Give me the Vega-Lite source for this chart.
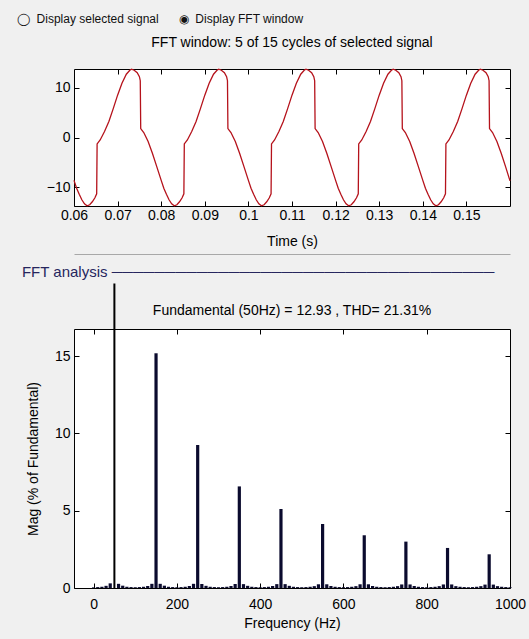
{
  "$schema": "https://vega.github.io/schema/vega-lite/v6.json",
  "background": "#f0f0f0",
  "padding": {"left": 16, "top": 13, "right": 21, "bottom": 12},
  "title": {"text": "◯\u00a0\u00a0Display selected signal\u00a0\u00a0\u00a0\u00a0\u00a0\u00a0◉\u00a0\u00a0Display FFT window", "anchor": "start", "fontSize": 12, "color": "#111", "dx": -5, "offset": 9},
  "config": {
    "font": "Liberation Sans",
    "view": {"stroke": "#000", "strokeWidth": 1, "fill": "#ffffff"},
    "scale": {"continuousPadding": 0},
    "axis": {"grid": false, "domain": false, "tickColor": "#000", "tickSize": -5, "labelFontSize": 14, "labelColor": "#000", "titleFontSize": 14, "titleFontWeight": "normal", "titleColor": "#000", "labelFlush": false, "labelOverlap": false, "labelPadding": 9, "titlePadding": 4},
    "title": {"fontWeight": "normal", "fontSize": 14, "color": "#000"}
  },
  "datasets": {
    "wave": [
      {"t":0.06,"v":-8.6},{"t":0.0606,"v":-10.2},{"t":0.0612,"v":-11.4},{"t":0.0618,"v":-12.5},{"t":0.0624,"v":-13.3},{"t":0.063,"v":-13.7},{"t":0.0636,"v":-13.5},{"t":0.0642,"v":-12.9},{"t":0.0648,"v":-12.1},{"t":0.0652,"v":-11.3},{"t":0.0653,"v":-1.3},{"t":0.066,"v":-0.5},{"t":0.067,"v":1.2},{"t":0.068,"v":3.2},{"t":0.069,"v":5.8},{"t":0.07,"v":8.5},{"t":0.071,"v":10.9},{"t":0.072,"v":12.7},{"t":0.0728,"v":13.5},{"t":0.0732,"v":13.7},{"t":0.0738,"v":13.5},{"t":0.0745,"v":13.0},{"t":0.075,"v":12.2},{"t":0.0752,"v":11.4},{"t":0.0753,"v":1.8},{"t":0.076,"v":1.0},{"t":0.077,"v":-0.8},{"t":0.078,"v":-3.2},{"t":0.079,"v":-5.9},
      {"t":0.08,"v":-8.6},{"t":0.0806,"v":-10.2},{"t":0.0812,"v":-11.4},{"t":0.0818,"v":-12.5},{"t":0.0824,"v":-13.3},{"t":0.083,"v":-13.7},{"t":0.0836,"v":-13.5},{"t":0.0842,"v":-12.9},{"t":0.0848,"v":-12.1},{"t":0.0852,"v":-11.3},{"t":0.0853,"v":-1.3},{"t":0.086,"v":-0.5},{"t":0.087,"v":1.2},{"t":0.088,"v":3.2},{"t":0.089,"v":5.8},{"t":0.09,"v":8.5},{"t":0.091,"v":10.9},{"t":0.092,"v":12.7},{"t":0.0928,"v":13.5},{"t":0.0932,"v":13.7},{"t":0.0938,"v":13.5},{"t":0.0945,"v":13.0},{"t":0.095,"v":12.2},{"t":0.0952,"v":11.4},{"t":0.0953,"v":1.8},{"t":0.096,"v":1.0},{"t":0.097,"v":-0.8},{"t":0.098,"v":-3.2},{"t":0.099,"v":-5.9},
      {"t":0.1,"v":-8.6},{"t":0.1006,"v":-10.2},{"t":0.1012,"v":-11.4},{"t":0.1018,"v":-12.5},{"t":0.1024,"v":-13.3},{"t":0.103,"v":-13.7},{"t":0.1036,"v":-13.5},{"t":0.1042,"v":-12.9},{"t":0.1048,"v":-12.1},{"t":0.1052,"v":-11.3},{"t":0.1053,"v":-1.3},{"t":0.106,"v":-0.5},{"t":0.107,"v":1.2},{"t":0.108,"v":3.2},{"t":0.109,"v":5.8},{"t":0.11,"v":8.5},{"t":0.111,"v":10.9},{"t":0.112,"v":12.7},{"t":0.1128,"v":13.5},{"t":0.1132,"v":13.7},{"t":0.1138,"v":13.5},{"t":0.1145,"v":13.0},{"t":0.115,"v":12.2},{"t":0.1152,"v":11.4},{"t":0.1153,"v":1.8},{"t":0.116,"v":1.0},{"t":0.117,"v":-0.8},{"t":0.118,"v":-3.2},{"t":0.119,"v":-5.9},
      {"t":0.12,"v":-8.6},{"t":0.1206,"v":-10.2},{"t":0.1212,"v":-11.4},{"t":0.1218,"v":-12.5},{"t":0.1224,"v":-13.3},{"t":0.123,"v":-13.7},{"t":0.1236,"v":-13.5},{"t":0.1242,"v":-12.9},{"t":0.1248,"v":-12.1},{"t":0.1252,"v":-11.3},{"t":0.1253,"v":-1.3},{"t":0.126,"v":-0.5},{"t":0.127,"v":1.2},{"t":0.128,"v":3.2},{"t":0.129,"v":5.8},{"t":0.13,"v":8.5},{"t":0.131,"v":10.9},{"t":0.132,"v":12.7},{"t":0.1328,"v":13.5},{"t":0.1332,"v":13.7},{"t":0.1338,"v":13.5},{"t":0.1345,"v":13.0},{"t":0.135,"v":12.2},{"t":0.1352,"v":11.4},{"t":0.1353,"v":1.8},{"t":0.136,"v":1.0},{"t":0.137,"v":-0.8},{"t":0.138,"v":-3.2},{"t":0.139,"v":-5.9},
      {"t":0.14,"v":-8.6},{"t":0.1406,"v":-10.2},{"t":0.1412,"v":-11.4},{"t":0.1418,"v":-12.5},{"t":0.1424,"v":-13.3},{"t":0.143,"v":-13.7},{"t":0.1436,"v":-13.5},{"t":0.1442,"v":-12.9},{"t":0.1448,"v":-12.1},{"t":0.1452,"v":-11.3},{"t":0.1453,"v":-1.3},{"t":0.146,"v":-0.5},{"t":0.147,"v":1.2},{"t":0.148,"v":3.2},{"t":0.149,"v":5.8},{"t":0.15,"v":8.5},{"t":0.151,"v":10.9},{"t":0.152,"v":12.7},{"t":0.1528,"v":13.5},{"t":0.1532,"v":13.7},{"t":0.1538,"v":13.5},{"t":0.1545,"v":13.0},{"t":0.155,"v":12.2},{"t":0.1552,"v":11.4},{"t":0.1553,"v":1.8},{"t":0.156,"v":1.0},{"t":0.157,"v":-0.8},{"t":0.158,"v":-3.2},{"t":0.159,"v":-5.9},{"t":0.16,"v":-8.7}
    ],
    "fft": [
      {"f":0,"m":0.04},{"f":10,"m":0.06},{"f":20,"m":0.08},{"f":30,"m":0.14},{"f":40,"m":0.3},{"f":50,"m":19.7},{"f":60,"m":0.27},{"f":70,"m":0.15},{"f":80,"m":0.08},{"f":90,"m":0.06},
      {"f":100,"m":0.05},{"f":110,"m":0.06},{"f":120,"m":0.08},{"f":130,"m":0.13},{"f":140,"m":0.27},{"f":150,"m":15.18},{"f":160,"m":0.27},{"f":170,"m":0.15},{"f":180,"m":0.08},{"f":190,"m":0.06},
      {"f":200,"m":0.05},{"f":210,"m":0.06},{"f":220,"m":0.08},{"f":230,"m":0.13},{"f":240,"m":0.27},{"f":250,"m":9.25},{"f":260,"m":0.26},{"f":270,"m":0.14},{"f":280,"m":0.08},{"f":290,"m":0.06},
      {"f":300,"m":0.05},{"f":310,"m":0.06},{"f":320,"m":0.08},{"f":330,"m":0.13},{"f":340,"m":0.26},{"f":350,"m":6.57},{"f":360,"m":0.25},{"f":370,"m":0.14},{"f":380,"m":0.08},{"f":390,"m":0.06},
      {"f":400,"m":0.05},{"f":410,"m":0.06},{"f":420,"m":0.08},{"f":430,"m":0.13},{"f":440,"m":0.25},{"f":450,"m":5.11},{"f":460,"m":0.25},{"f":470,"m":0.14},{"f":480,"m":0.08},{"f":490,"m":0.06},
      {"f":500,"m":0.05},{"f":510,"m":0.06},{"f":520,"m":0.08},{"f":530,"m":0.12},{"f":540,"m":0.24},{"f":550,"m":4.14},{"f":560,"m":0.24},{"f":570,"m":0.13},{"f":580,"m":0.08},{"f":590,"m":0.06},
      {"f":600,"m":0.05},{"f":610,"m":0.06},{"f":620,"m":0.08},{"f":630,"m":0.12},{"f":640,"m":0.24},{"f":650,"m":3.41},{"f":660,"m":0.24},{"f":670,"m":0.13},{"f":680,"m":0.08},{"f":690,"m":0.06},
      {"f":700,"m":0.05},{"f":710,"m":0.06},{"f":720,"m":0.08},{"f":730,"m":0.12},{"f":740,"m":0.23},{"f":750,"m":3.0},{"f":760,"m":0.23},{"f":770,"m":0.13},{"f":780,"m":0.08},{"f":790,"m":0.06},
      {"f":800,"m":0.05},{"f":810,"m":0.06},{"f":820,"m":0.08},{"f":830,"m":0.12},{"f":840,"m":0.23},{"f":850,"m":2.59},{"f":860,"m":0.23},{"f":870,"m":0.12},{"f":880,"m":0.08},{"f":890,"m":0.06},
      {"f":900,"m":0.05},{"f":910,"m":0.06},{"f":920,"m":0.08},{"f":930,"m":0.12},{"f":940,"m":0.22},{"f":950,"m":2.18},{"f":960,"m":0.22},{"f":970,"m":0.12},{"f":980,"m":0.08},{"f":990,"m":0.06},
      {"f":1000,"m":0.05}
    ]
  },
  "spacing": 10,
  "vconcat": [
    {
      "width": 436,
      "height": 137,
      "title": {"text": "FFT window: 5 of 15 cycles of selected signal", "offset": 17},
      "data": {"name": "wave"},
      "layer": [
        {
          "mark": {"type": "line", "color": "#b5121b", "strokeWidth": 1.3},
          "encoding": {
            "x": {"field": "t", "type": "quantitative", "scale": {"domain": [0.06, 0.16], "nice": false, "zero": false},
                  "axis": {"values": [0.06,0.07,0.08,0.09,0.1,0.11,0.12,0.13,0.14,0.15], "format": ".2~f", "title": "Time (s)", "labelPadding": 7, "titlePadding": 12}},
            "y": {"field": "v", "type": "quantitative", "scale": {"domain": [-13.75, 13.75], "nice": false, "zero": false},
                  "axis": {"values": [-10, 0, 10], "title": null}}
          }
        },
        {
          "mark": {"type": "line", "opacity": 0},
          "encoding": {
            "x": {"field": "t", "type": "quantitative", "axis": {"orient": "top", "values": [0.07,0.08,0.09,0.1,0.11,0.12,0.13,0.14,0.15], "labels": false, "title": null}},
            "y": {"field": "v", "type": "quantitative", "axis": {"orient": "right", "values": [-10, 0, 10], "labels": false, "title": null}}
          }
        },
        {
          "mark": {"type": "line", "opacity": 0},
          "encoding": {
            "x": {"field": "t", "type": "quantitative", "axis": {"orient": "bottom", "offset": 48, "ticks": false, "labels": false, "title": null, "domain": true, "domainColor": "#a8a8a8", "domainWidth": 1}}
          }
        }
      ],
      "resolve": {"axis": {"x": "independent", "y": "independent"}}
    },
    {
      "title": {"text": "FFT analysis\u00a0────────────────────────────────────", "anchor": "start", "color": "#26265e", "fontSize": 15, "dx": -4, "offset": 0},
      "vconcat": [
        {
          "width": 436,
          "height": 259,
          "title": {"text": "Fundamental (50Hz) = 12.93 , THD= 21.31%", "offset": -37},
          "data": {"name": "fft"},
          "layer": [
            {
              "mark": {"type": "bar"},
              "encoding": {
                "x": {"field": "f", "type": "quantitative", "scale": {"domain": [-47, 1000], "nice": false, "zero": false, "padding": 0},
                      "axis": {"values": [0, 200, 400, 600, 800, 1000], "format": "d", "title": "Frequency (Hz)", "labelPadding": 14, "titlePadding": 5}},
                "y": {"field": "m", "type": "quantitative", "scale": {"domain": [0, 16.75], "nice": false},
                      "axis": {"values": [0, 5, 10, 15], "title": "Mag (% of Fundamental)", "titlePadding": 14}},
                "color": {"condition": {"test": "datum.f === 50", "value": "#000000"}, "value": "#0b0b2e"},
                "size": {"condition": {"test": "datum.f === 50", "value": 2}, "value": 3.2}
              }
            },
            {
              "mark": {"type": "point", "opacity": 0},
              "encoding": {
                "x": {"field": "f", "type": "quantitative", "axis": {"orient": "top", "values": [0, 200, 400, 600, 800], "labels": false, "title": null}},
                "y": {"field": "m", "type": "quantitative", "axis": {"orient": "right", "values": [5, 10, 15], "labels": false, "title": null}}
              }
            }
          ],
          "resolve": {"axis": {"x": "independent", "y": "independent"}}
        }
      ]
    }
  ]
}
